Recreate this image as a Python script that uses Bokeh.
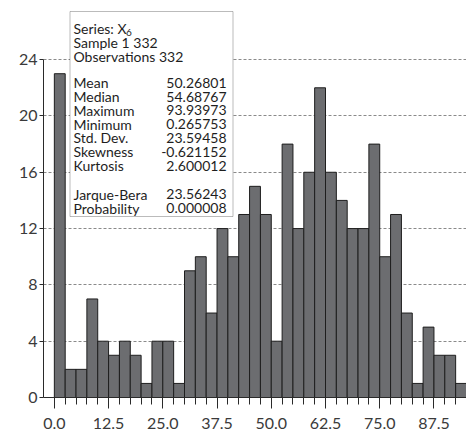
from bokeh.plotting import figure
from bokeh.models import FixedTicker, PrintfTickFormatter, BoxAnnotation, Label, Range1d
from bokeh.embed import file_html
from bokeh.resources import INLINE

# ---- data ----
bin_start = 0.0
bin_width = 2.5
counts = [23, 2, 2, 7, 4, 3, 4, 3, 1, 4, 4, 1, 9, 10, 6, 12, 10, 13, 15, 13,
          4, 18, 12, 16, 22, 16, 14, 12, 12, 18, 10, 13, 6, 1, 5, 3, 3, 1]
x_major_ticks = [0.0, 12.5, 25.0, 37.5, 50.0, 62.5, 75.0, 87.5]
y_ticks = [0, 4, 8, 12, 16, 20, 24]

series_name = "X"
series_sub = "6"
sample_text = "Sample 1 332"
obs_text = "Observations 332"
stat_names = ["Mean", "Median", "Maximum", "Minimum", "Std. Dev.", "Skewness", "Kurtosis"]
stat_values = ["50.26801", "54.68767", "93.93973", "0.265753", "23.59458", "-0.621152", "2.600012"]
test_names = ["Jarque-Bera", "Probability"]
test_values = ["23.56243", "0.000008"]

# ---- derived ----
lefts = [bin_start + i * bin_width for i in range(len(counts))]
rights = [l + bin_width for l in lefts]
edges = lefts + [rights[-1]]

FONT = "Lato"
FRAME_H = 397
Y_END = 28.2
X_START, X_END = -2.5, 95.0
FRAME_W = 423
MB_LEFT, MB_TOP = 43, 0

def ydata(py):  # page pixel y -> data
    return (MB_TOP + FRAME_H - py) * Y_END / FRAME_H

def xdata(px):  # page pixel x -> data
    return X_START + (px - MB_LEFT) * (X_END - X_START) / FRAME_W

p = figure(frame_width=FRAME_W, frame_height=FRAME_H,
           x_range=Range1d(X_START, X_END), y_range=Range1d(0, Y_END),
           output_backend="svg", toolbar_location=None,
           min_border_left=MB_LEFT, min_border_right=0,
           min_border_top=MB_TOP, min_border_bottom=43)
p.outline_line_color = None
p.background_fill_color = "white"
p.border_fill_color = "white"

p.xgrid.visible = False
p.ygrid.ticker = FixedTicker(ticks=y_ticks[1:])
p.ygrid.grid_line_color = "#8a8a8a"
p.ygrid.grid_line_dash = "3 2"
p.ygrid.grid_line_width = 1

p.quad(left=lefts, right=rights, bottom=0, top=counts,
       fill_color="#6c6d70", line_color="#1e1e1e", line_width=1)

for ax in (p.xaxis[0], p.yaxis[0]):
    ax.axis_line_color = "#2a2a2a"
    ax.major_tick_line_color = "#2a2a2a"
    ax.minor_tick_line_color = "#2a2a2a"
    ax.major_label_text_font = FONT
    ax.major_label_text_font_size = "16px"
    ax.major_label_text_color = "#3a3a3a"
    ax.major_tick_in = 0
    ax.minor_tick_in = 0

p.yaxis.ticker = FixedTicker(ticks=y_ticks)
p.yaxis.bounds = (0, 24)
p.yaxis.major_tick_out = 4
p.yaxis.minor_tick_out = 0
p.yaxis.major_label_standoff = 2

p.xaxis.ticker = FixedTicker(ticks=x_major_ticks, minor_ticks=edges)
p.xaxis.formatter = PrintfTickFormatter(format="%.1f")
p.xaxis.major_tick_out = 11
p.xaxis.minor_tick_out = 7
p.xaxis.major_label_standoff = 9

# ---- statistics box ----
box = BoxAnnotation(left=xdata(69.5), right=xdata(232.5), top=ydata(11), bottom=ydata(216),
                    fill_color="white", fill_alpha=1.0, line_color="#1e1e1e", line_width=1)
p.add_layout(box)

TXT = "#1e1e1e"
FS = "14px"
left_x = xdata(73)
right_x = xdata(226)

def add_text(x, py, text, align="left", size=FS):
    p.add_layout(Label(x=x, y=ydata(py), text=text, text_font=FONT, text_font_size=size,
                       text_color=TXT, text_align=align, text_baseline="alphabetic"))

add_text(left_x, 28.3, "Series: " + series_name)
add_text(xdata(125.5), 32, series_sub, size="10px")
add_text(left_x, 41.9, sample_text)
add_text(left_x, 55.7, obs_text)

stat_rows = [82.3, 96.0, 109.8, 123.6, 137.4, 151.2, 165.0]
for py, name, val in zip(stat_rows, stat_names, stat_values):
    add_text(left_x, py, name)
    add_text(right_x, py, val, align="right")

test_rows = [193.9, 207.5]
for py, name, val in zip(test_rows, test_names, test_values):
    add_text(left_x, py, name)
    add_text(right_x, py, val, align="right")

open("out.html", "w").write(file_html(p, INLINE))
